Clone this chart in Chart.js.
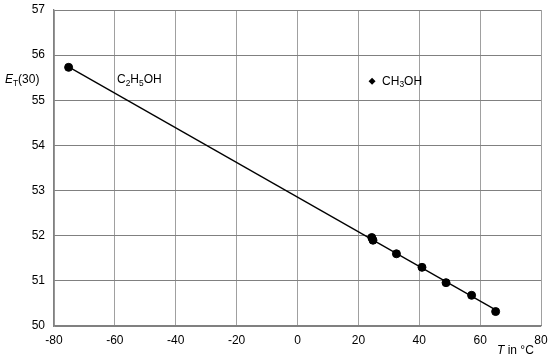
<!DOCTYPE html>
<html lang="en">
<head>
<meta charset="UTF-8">
<title>ET(30) vs temperature</title>
<script src="https://cdn.jsdelivr.net/npm/chart.js"></script>
<style>
  html, body { margin: 0; padding: 0; background: #fff; }
  #wrap { width: 550px; height: 362px; }
</style>
</head>
<body>
<div id="wrap"><canvas id="etChart"></canvas></div>
<script>
// measured points (T in °C, ET(30))
const temps = [-75.2, 24.4, 24.8, 32.5, 40.9, 48.8, 57.2, 65.1];
const etValues = [55.73, 51.96, 51.90, 51.60, 51.30, 50.96, 50.68, 50.32];

const xTicks = [-80, -60, -40, -20, 0, 20, 40, 60, 80];
const yTicks = [50, 51, 52, 53, 54, 55, 56, 57];

// label positions (data coords)
const c2Label = { x: -59.3, y: 55.45 };
const c1Label = { x: 24.5, y: 55.42 };

const FONT = '"Liberation Sans", Arial, sans-serif';

// least squares line through the points
function fitLine(xs, ys) {
    let n = xs.length, sx = 0, sy = 0, sxx = 0, sxy = 0;
    for (let i = 0; i < n; i++) {
        sx += xs[i]; sy += ys[i]; sxx += xs[i] * xs[i]; sxy += xs[i] * ys[i];
    }
    let m = (n * sxy - sx * sy) / (n * sxx - sx * sx);
    let b = (sy - m * sx) / n;
    let x0 = Math.min(...xs), x1 = Math.max(...xs);
    return [{ x: x0, y: m * x0 + b }, { x: x1, y: m * x1 + b }];
}

// draws a list of [text, "n"|"sub"|"it"] pieces starting at x, centred on y
function drawParts(ctx, parts, x, y, size) {
    ctx.textBaseline = "middle";
    ctx.textAlign = "left";
    parts.forEach(p => {
        let s = p[1] === "sub" ? size * 0.7 : size;
        ctx.font = (p[1] === "it" ? "italic " : "") + s + "px " + FONT;
        let dy = p[1] === "sub" ? size * 0.3 : 0;
        ctx.fillText(p[0], x, y + dy);
        x += ctx.measureText(p[0]).width;
    });
}

const labelPlugin = {
    id: "labels",
    afterDraw(chart) {
        let ctx = chart.ctx;
        let xs = chart.scales.x, ys = chart.scales.y;
        ctx.save();
        ctx.fillStyle = "#000";

        drawParts(ctx, [["C", "n"], ["2", "sub"], ["H", "n"], ["5", "sub"], ["OH", "n"]],
            xs.getPixelForValue(c2Label.x), ys.getPixelForValue(c2Label.y), 12);

        let px = xs.getPixelForValue(c1Label.x), py = ys.getPixelForValue(c1Label.y);
        ctx.beginPath();
        ctx.moveTo(px, py - 3.5);
        ctx.lineTo(px + 3.5, py);
        ctx.lineTo(px, py + 3.5);
        ctx.lineTo(px - 3.5, py);
        ctx.closePath();
        ctx.fill();
        drawParts(ctx, [["CH", "n"], ["3", "sub"], ["OH", "n"]], px + 10, py, 12);

        // axis titles
        drawParts(ctx, [["E", "it"], ["T", "sub"], ["(30)", "n"]], 5, 80, 12);
        drawParts(ctx, [["T", "it"], [" in °C", "n"]], 497, 351, 12);
        ctx.restore();
    }
};

new Chart(document.getElementById("etChart"), {
    type: "scatter",
    data: {
        datasets: [
            {
                type: "line",
                data: fitLine(temps, etValues),
                borderColor: "#000",
                borderWidth: 1.3,
                pointRadius: 0,
                fill: false
            },
            {
                data: temps.map((t, i) => ({ x: t, y: etValues[i] })),
                backgroundColor: "#000",
                borderColor: "#000",
                pointRadius: 4,
                pointHoverRadius: 4
            }
        ]
    },
    options: {
        responsive: true,
        maintainAspectRatio: false,
        animation: false,
        layout: { padding: { left: 0, right: 9, top: 10, bottom: 0 } },
        plugins: { legend: { display: false }, tooltip: { enabled: false } },
        scales: {
            x: {
                type: "linear",
                min: -80, max: 80,
                afterBuildTicks: s => { s.ticks = xTicks.map(v => ({ value: v })); },
                afterFit: s => { s.height = 36; s.paddingLeft = 0; s.paddingRight = 0; },
                grid: { color: "#a0a0a0", lineWidth: 1, drawTicks: false },
                border: { color: "#808080", width: 1.3 },
                ticks: { color: "#000", padding: 7, font: { family: FONT, size: 12 } }
            },
            y: {
                type: "linear",
                min: 50, max: 57,
                afterBuildTicks: s => { s.ticks = yTicks.map(v => ({ value: v })); },
                afterFit: s => { s.width = 54; s.paddingTop = 0; s.paddingBottom = 0; },
                grid: { color: "#808080", lineWidth: 1, drawTicks: false },
                border: { color: "#808080", width: 1.3 },
                ticks: { color: "#000", padding: 9, font: { family: FONT, size: 12 } }
            }
        }
    },
    plugins: [labelPlugin]
});
</script>
</body>
</html>
